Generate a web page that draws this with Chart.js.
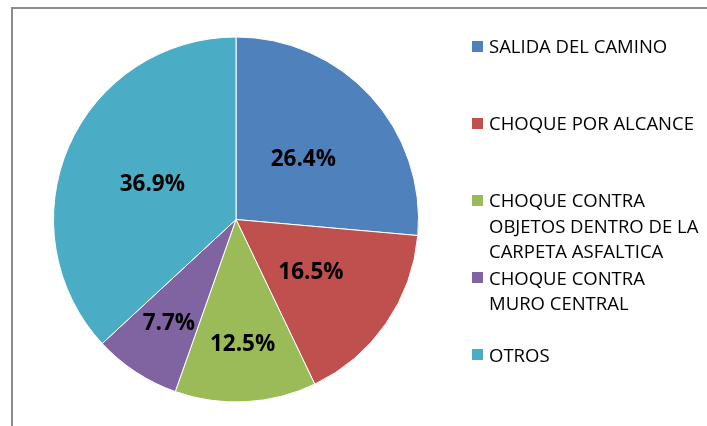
<!DOCTYPE html>
<html>
<head>
<meta charset="utf-8">
<script src="https://cdn.jsdelivr.net/npm/chart.js@4/dist/chart.umd.min.js"></script>
<style>
  html, body { margin:0; padding:0; background:#ffffff; width:707px; height:426px; overflow:hidden; }
  #frame { position:absolute; left:11px; top:7px; width:720px; height:440px;
           border-left:2px solid #8c8c8c; border-top:2px solid #8c8c8c; box-sizing:border-box; }
  #wrap { position:absolute; left:0; top:0; width:707px; height:426px; }
  #legend { position:absolute; left:472px; top:0; font-family:"Open Sans", sans-serif;
            font-size:18.5px; color:#000; }
  .item { position:absolute; left:0; white-space:nowrap; }
  .sw { position:absolute; left:0; width:11px; height:11px; }
  .txt { position:absolute; left:17px; line-height:25.5px; }
</style>
</head>
<body>
<div id="frame"></div>
<div id="wrap"><canvas id="c" width="707" height="426"></canvas></div>
<div id="legend"></div>
<script>
// ---- data ----
const categories = [
  ["SALIDA DEL CAMINO"],
  ["CHOQUE POR ALCANCE"],
  ["CHOQUE CONTRA", "OBJETOS DENTRO DE LA", "CARPETA ASFALTICA"],
  ["CHOQUE CONTRA", "MURO CENTRAL"],
  ["OTROS"]
];
const percentages = [26.4, 16.5, 12.5, 7.7, 36.9];
const colors = ["#4F81BD", "#C0504D", "#9BBB59", "#8064A2", "#4BACC6"];
// label placement (fraction of radius along the slice's middle angle)
const labelRadiusFrac = [0.5, 0.5, 0.675, 0.67, 0.5];

// ---- percentage labels plugin ----
const pieLabels = {
  id: 'pieLabels',
  afterDatasetsDraw(chart) {
    const ctx = chart.ctx;
    const meta = chart.getDatasetMeta(0);
    ctx.save();
    ctx.font = 'bold 22.5px "Open Sans", sans-serif';
    ctx.fillStyle = '#000';
    ctx.textAlign = 'center';
    ctx.textBaseline = 'alphabetic';
    meta.data.forEach((arc, i) => {
      const p = arc.getProps(['x','y','startAngle','endAngle','outerRadius'], true);
      const mid = (p.startAngle + p.endAngle) / 2;
      const r = p.outerRadius * labelRadiusFrac[i];
      const x = p.x + Math.cos(mid) * r;
      const y = p.y + Math.sin(mid) * r;
      ctx.fillText(percentages[i].toFixed(1) + '%', x, y + 8);
    });
    ctx.restore();
  }
};

const chart = new Chart(document.getElementById('c'), {
  type: 'pie',
  data: {
    labels: categories,
    datasets: [{
      data: percentages,
      backgroundColor: colors,
      borderColor: '#ffffff',
      borderWidth: 1
    }]
  },
  options: {
    responsive: false,
    animation: false,
    layout: { padding: { left: 53, top: 36.5, right: 288, bottom: 23.5 } },
    plugins: { legend: { display: false }, tooltip: { enabled: false } }
  },
  plugins: [pieLabels]
});

// ---- legend (HTML, built from the data arrays) ----
const legend = document.getElementById('legend');
const firstCenter = 46, step = 77.1, lineH = 25.5;
categories.forEach((lines, i) => {
  const c = firstCenter + i * step;
  const item = document.createElement('div');
  item.className = 'item';
  item.style.top = (c - lineH / 2) + 'px';
  const sw = document.createElement('div');
  sw.className = 'sw';
  sw.style.background = colors[i];
  sw.style.top = (lineH / 2 - 5.5) + 'px';
  const t = document.createElement('div');
  t.className = 'txt';
  t.innerHTML = lines.map(s => s.replace(/&/g,'&amp;')).join('<br>');
  item.appendChild(sw);
  item.appendChild(t);
  legend.appendChild(item);
});
</script>
</body>
</html>
